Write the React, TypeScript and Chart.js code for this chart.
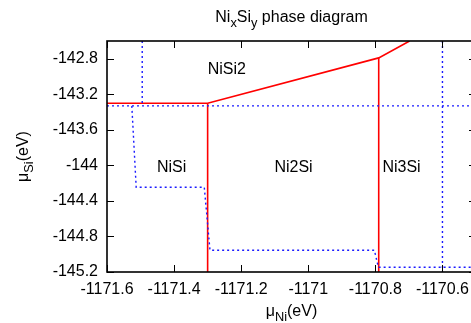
import React, { useEffect, useRef } from "react";
import { Chart, registerables } from "chart.js";

Chart.register(...registerables);

// Axis ranges
const X_MIN = -1171.6;
const X_MAX = -1170.5;
const Y_MIN = -145.2;
const Y_MAX = -142.6;

// Tick values and labels
const xTickValues = [-1171.6, -1171.4, -1171.2, -1171.0, -1170.8, -1170.6];
const xTickLabels = ["-1171.6", "-1171.4", "-1171.2", "-1171", "-1170.8", "-1170.6"];
const yTickValues = [-145.2, -144.8, -144.4, -144.0, -143.6, -143.2, -142.8];
const yTickLabels = ["-145.2", "-144.8", "-144.4", "-144", "-143.6", "-143.2", "-142.8"];

// Red solid phase boundaries
const redUpperX = [-1171.6, -1171.3, -1170.79, -1170.698];
const redUpperY = [-143.3, -143.3, -142.79, -142.6];
const redNiSiX = [-1171.3, -1171.3];
const redNiSiY = [-143.3, -145.2];
const redNi3SiX = [-1170.79, -1170.79];
const redNi3SiY = [-142.79, -145.2];

// Blue dotted lines
const blueVertLeftX = [-1171.495, -1171.495];
const blueVertLeftY = [-142.6, -143.33];
const blueHorizX = [-1171.6, -1170.5];
const blueHorizY = [-143.33, -143.33];
const blueStepX = [-1171.526, -1171.513, -1171.31, -1171.293, -1170.803, -1170.791, -1170.5];
const blueStepY = [-143.33, -144.246, -144.246, -144.955, -144.955, -145.147, -145.147];
const blueVertRightX = [-1170.6, -1170.6];
const blueVertRightY = [-142.6, -145.2];

// Phase region labels
const phaseNames = ["NiSi2", "NiSi", "Ni2Si", "Ni3Si"];
const phaseX = [-1171.243, -1171.4075, -1171.044, -1170.722];
const phaseY = [-142.969, -144.07, -144.07, -144.07];

const FONT = '"Liberation Sans", Arial, Helvetica, sans-serif';

type Part = { t: string; sub?: boolean };

function drawRich(ctx: CanvasRenderingContext2D, parts: Part[], cx: number, baseline: number) {
  const main = `16px ${FONT}`;
  const small = `12.8px ${FONT}`;
  let total = 0;
  const widths = parts.map((p) => {
    ctx.font = p.sub ? small : main;
    const w = ctx.measureText(p.t).width;
    total += w;
    return w;
  });
  let x = cx - total / 2;
  ctx.textAlign = "left";
  ctx.textBaseline = "alphabetic";
  parts.forEach((p, i) => {
    ctx.font = p.sub ? small : main;
    ctx.fillText(p.t, x, baseline + (p.sub ? 4.5 : 0));
    x += widths[i];
  });
}

const framePlugin = {
  id: "frame",
  afterDatasetsDraw(chart: any) {
    const { ctx, chartArea } = chart;
    const xs = chart.scales.x;
    const ys = chart.scales.y;
    const { left, right, top, bottom } = chartArea;
    ctx.save();
    // ticks (inward, mirrored)
    ctx.strokeStyle = "#000";
    ctx.lineWidth = 1;
    ctx.beginPath();
    xTickValues.forEach((v) => {
      const px = Math.round(xs.getPixelForValue(v)) + 0.5;
      ctx.moveTo(px, bottom);
      ctx.lineTo(px, bottom - 7);
      ctx.moveTo(px, top);
      ctx.lineTo(px, top + 7);
    });
    yTickValues.forEach((v) => {
      const py = Math.round(ys.getPixelForValue(v)) + 0.5;
      ctx.moveTo(left, py);
      ctx.lineTo(left + 7, py);
      ctx.moveTo(right, py);
      ctx.lineTo(right - 7, py);
    });
    ctx.stroke();
    // border
    ctx.lineWidth = 1.6;
    ctx.strokeRect(left, top, right - left, bottom - top);
    // phase labels
    ctx.fillStyle = "#000";
    ctx.font = `16px ${FONT}`;
    ctx.textAlign = "center";
    ctx.textBaseline = "alphabetic";
    phaseNames.forEach((n, i) => {
      ctx.fillText(n, xs.getPixelForValue(phaseX[i]), ys.getPixelForValue(phaseY[i]));
    });
    // title
    const cx = (left + right) / 2;
    drawRich(ctx, [{ t: "Ni" }, { t: "x", sub: true }, { t: "Si" }, { t: "y", sub: true }, { t: " phase diagram" }], cx, 22.3);
    // x axis title
    drawRich(ctx, [{ t: "\u03bc" }, { t: "Ni", sub: true }, { t: "(eV)" }], cx, 316);
    // y axis title
    ctx.translate(28, (top + bottom) / 2);
    ctx.rotate(-Math.PI / 2);
    drawRich(ctx, [{ t: "\u03bc" }, { t: "Si", sub: true }, { t: "(eV)" }], 0, 0);
    ctx.restore();
  },
};

export default function App() {
  const ref = useRef<HTMLCanvasElement>(null);
  useEffect(() => {
    const canvas = ref.current!;
    const pts = (xs: number[], ys: number[]) => xs.map((x, i) => ({ x, y: ys[i] }));
    const red = (xs: number[], ys: number[]) => ({
      data: pts(xs, ys),
      showLine: true,
      borderColor: "#ff0000",
      backgroundColor: "#ff0000",
      borderWidth: 1.6,
      pointRadius: 0,
      fill: false,
      tension: 0,
    });
    const blue = (xs: number[], ys: number[]) => ({
      data: pts(xs, ys),
      showLine: true,
      borderColor: "#1a1aff",
      backgroundColor: "#1a1aff",
      borderWidth: 1.4,
      borderDash: [2, 3],
      pointRadius: 0,
      fill: false,
      tension: 0,
    });
    const findLabel = (vals: number[], labels: string[], v: number) => {
      const i = vals.findIndex((t) => Math.abs(t - v) < 1e-6);
      return i >= 0 ? labels[i] : "";
    };
    const chart = new Chart(canvas, {
      type: "scatter",
      data: {
        datasets: [
          blue(blueVertLeftX, blueVertLeftY),
          blue(blueHorizX, blueHorizY),
          blue(blueStepX, blueStepY),
          blue(blueVertRightX, blueVertRightY),
          red(redUpperX, redUpperY),
          red(redNiSiX, redNiSiY),
          red(redNi3SiX, redNi3SiY),
        ] as any,
      },
      options: {
        responsive: false,
        maintainAspectRatio: false,
        animation: false,
        devicePixelRatio: 1,
        events: [],
        layout: { padding: { left: 0, right: 44, top: 41, bottom: 0 } },
        plugins: {
          legend: { display: false },
          tooltip: { enabled: false },
          title: { display: false },
        },
        scales: {
          x: {
            type: "linear",
            min: X_MIN,
            max: X_MAX,
            grid: { display: false, drawTicks: false },
            border: { display: false },
            ticks: {
              padding: 8,
              color: "#000",
              autoSkip: false,
              maxRotation: 0,
              font: { family: FONT, size: 16 },
              callback: (v: any) => findLabel(xTickValues, xTickLabels, Number(v)),
            },
            afterBuildTicks: (s: any) => {
              s.ticks = xTickValues.map((v) => ({ value: v }));
            },
            afterFit: (s: any) => {
              s.height = 51;
            },
          },
          y: {
            type: "linear",
            min: Y_MIN,
            max: Y_MAX,
            grid: { display: false, drawTicks: false },
            border: { display: false },
            ticks: {
              padding: 9,
              color: "#000",
              autoSkip: false,
              font: { family: FONT, size: 16 },
              callback: (v: any) => findLabel(yTickValues, yTickLabels, Number(v)),
            },
            afterBuildTicks: (s: any) => {
              s.ticks = yTickValues.map((v) => ({ value: v }));
            },
            afterFit: (s: any) => {
              s.width = 107;
            },
          },
        },
      } as any,
      plugins: [framePlugin],
    });
    return () => chart.destroy();
  }, []);
  return (
    <div
      style={{
        position: "fixed",
        left: 0,
        top: 0,
        width: 471,
        height: 323,
        overflow: "hidden",
        background: "#fff",
      }}
    >
      <canvas ref={ref} width={520} height={323} style={{ display: "block", width: 520, height: 323 }} />
    </div>
  );
}
